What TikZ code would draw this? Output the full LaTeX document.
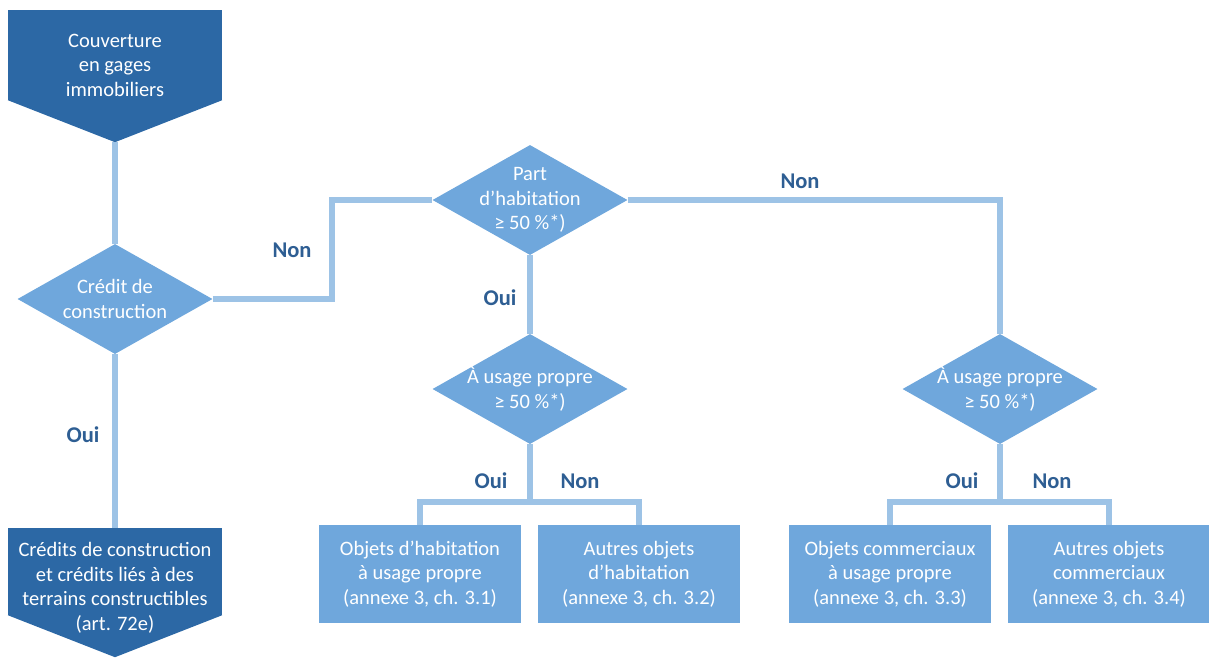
\documentclass[tikz,border=0pt]{standalone}
\usepackage{fontspec}
\setmainfont{Carlito}
\usetikzlibrary{positioning}
\usetikzlibrary{shapes.geometric}
\definecolor{darkblue}{HTML}{2C68A5}
\definecolor{boxblue}{HTML}{6FA7DC}
\definecolor{lineblue}{HTML}{9DC3E6}
\definecolor{labelblue}{HTML}{2E5E93}
\tikzstyle{endbox}   = [rectangle, fill=darkblue, minimum width=214pt, inner sep=0pt]
\tikzstyle{endtext}  = [text=white, align=center, font=\fontsize{20.5}{24.5}\selectfont]
\tikzstyle{decision} = [diamond, fill=boxblue, text=white, align=center,
                        minimum width=195pt, minimum height=110pt, inner sep=-30pt,
                        font=\fontsize{20.5}{24.5}\selectfont]
\tikzstyle{result}   = [rectangle, fill=boxblue, text=white, align=center,
                        minimum width=202pt, minimum height=98pt,
                        font=\fontsize{20.5}{24.5}\selectfont]
\tikzstyle{answer}   = [text=labelblue, font=\fontsize{22.5}{27}\selectfont\bfseries]
\tikzstyle{link}     = [draw=lineblue, line width=6pt]

\begin{document}
\begin{tikzpicture}[x=1pt, y=-1pt]
\useasboundingbox (0,0) rectangle (1209,657);
% start and end of the chart
\node (cover) [endbox, minimum height=90pt] at (115,55) {};
\fill [darkblue] (cover.south west) -- (cover.south east) -- ([yshift=-42pt]cover.south) coordinate (cover tip) -- cycle;
\node (cover text) [endtext] at (115,65) {Couverture\\en gages\\immobiliers};
\node (credits) [endbox, minimum height=87pt] at (115,571.5) {};
\fill [darkblue] (credits.south west) -- (credits.south east) -- ([yshift=-42pt]credits.south) -- cycle;
\node (credits text) [endtext] at (115,588) {Crédits de construction\\et crédits liés à des\\terrains constructibles\\(art. 72e)};
% questions
\node (credit) [decision] at (115,299) {Crédit de\\construction};
\node (part) [decision] at (530,200) {Part\\d’habitation\\≥ 50 \%*)};
\node (usage hab) [decision] at (530,389) {À usage propre\\≥ 50 \%*)};
\node (usage com) [decision] at (1000,389) {À usage propre\\≥ 50 \%*)};
% results
\node (hab propre) [result] at (420,574) {Objets d’habitation\\à usage propre\\(annexe 3, ch. 3.1)};
\node (hab autres) [result] at (639,574) {Autres objets\\d’habitation\\(annexe 3, ch. 3.2)};
\node (com propre) [result] at (890,574) {Objets commerciaux\\à usage propre\\(annexe 3, ch. 3.3)};
\node (com autres) [result] at (1109,574) {Autres objets\\commerciaux\\(annexe 3, ch. 3.4)};
% connectors
\draw [link] (cover tip) -- (credit.north);
\draw [link] (credit.south) -- (credits.north);
\draw [link] (credit.east) -- ++(119,0) |- (part.west);
\draw [link] (part.east) -| (usage com.north);
\draw [link] (part.south) -- (usage hab.north);
\draw [link] (usage hab.south) -- ++(0,58) -| (hab propre.north);
\draw [link] (usage hab.south) -- ++(0,58) -| (hab autres.north);
\draw [link] (usage com.south) -- ++(0,58) -| (com propre.north);
\draw [link] (usage com.south) -- ++(0,58) -| (com autres.north);
% answers
\node (oui credit) [answer] at (83,435) {Oui};
\node (non credit) [answer] at (292,250) {Non};
\node (oui part) [answer] at (500,298) {Oui};
\node (non part) [answer] at (800,181) {Non};
\node (oui hab) [answer] at (491,481) {Oui};
\node (non hab) [answer] at (580,481) {Non};
\node (oui com) [answer] at (962,481) {Oui};
\node (non com) [answer] at (1052,481) {Non};
\end{tikzpicture}
\end{document}
